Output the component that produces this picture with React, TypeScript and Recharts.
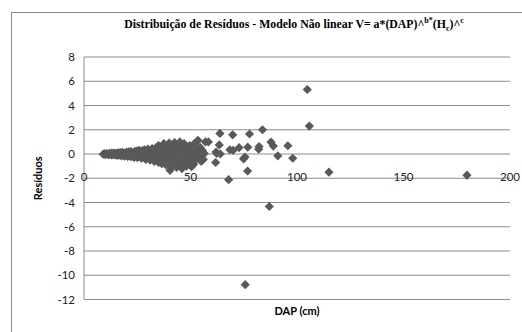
import { ScatterChart, Scatter, XAxis, YAxis, CartesianGrid, Label } from "recharts";

// DAP (cm) of each tree and its residual
const dap = [
  9, 9.5, 10, 10.5, 11, 11.5, 12, 12, 12.5, 13, 13, 13.5, 14, 14, 14.5, 15, 15,
  15.5, 16, 16, 16.5, 17, 17, 17.5, 18, 18, 18.5, 19, 19, 19.5, 20, 20,
  20.5, 21, 21, 21.5, 22, 22, 22.5, 23, 23, 23.5, 24, 24, 24.5, 25, 25,
  25.5, 26, 26, 26.5, 27, 27, 27.5, 28, 28, 28.5, 29, 29, 29.5, 30, 30, 30,
  30.5, 31, 31, 31.5, 32, 32, 32.5, 33, 33, 33.5, 34, 34, 34.5, 35, 35, 35,
  35.5, 36, 36, 36.5, 37, 37, 37.5, 38, 38, 38.5, 39, 39, 39.5, 40, 40, 40.4, 40,
  40.5, 41, 41, 41.5, 42, 42, 42.5, 43, 43, 43.5, 44, 44, 44.5, 45, 45, 45,
  45.5, 46, 46, 46.5, 47, 47, 47.5, 48, 48, 48.5, 49, 49, 49.5, 50, 50,
  50.5, 51, 51, 51.5, 52, 52, 52.5, 53, 53.5, 54, 54.5, 55, 55.5, 56, 57, 58.4, 56.5,
  61.8, 62.3, 62, 63.5, 63.8, 64, 68.5, 69.8, 70, 67.9, 72.8, 74.9, 75.6, 75.7,
  76.8, 76.9, 77.7, 82.2, 82, 83.8, 87, 87.8, 88.9, 91, 95.7, 98, 104.8, 105.8,
  115, 179.8,
];
const residuos = [
  -0.02, 0.03, -0.05, 0.04, 0.01, -0.06, 0.05, -0.03, 0.02, -0.08, 0.07, 0, -0.05, 0.08, 0.03, -0.1, 0.06,
  0, -0.12, 0.1, 0.04, -0.07, 0.12, -0.15, 0.02, 0.14, -0.1, 0.08, -0.18, 0, 0.15, -0.12,
  -0.2, 0.05, 0.18, -0.08, 0.2, -0.22, 0, 0.12, -0.15, -0.28, 0.22, 0.05, -0.1, 0.25, -0.3,
  0.1, -0.2, 0.3, -0.05, 0.15, -0.35, 0.28, -0.15, 0.05, 0.35, -0.25, -0.45, 0.2, 0, -0.3, 0.4,
  -0.15, 0.25, -0.5, 0.1, -0.35, 0.45, -0.05, 0.3, -0.6, 0.15, -0.25, 0.55, -0.45, 0, 0.7, -0.7,
  0.35, -0.3, 0.2, -0.8, 0.5, -0.1, 0.85, -0.5, 0.25, -0.9, 0.6, -0.2, 0.1, -0.65, 0.4, -1.35, 0.9,
  -0.3, 0.2, -1.0, 0.65, -0.45, 0, 0.95, -0.75, 0.35, -1.1, 0.15, -0.2, 0.75, -0.55, 1.0, -0.95,
  0.3, -1.2, 0.55, -0.1, 0.85, -0.7, 0.2, -1.0, 0.5, -0.35, 0, -0.8, 0.7, -0.5, 0.3,
  -1.05, 0.6, -0.2, -0.85, 0.15, 0.9, -0.45, 0.4, 1.13, -0.1, 0.55, -0.6, 0.3, -0.45, 1.0, 1.0, 0.05,
  -0.7, 0.05, 0.16, 0.75, 1.7, 0, 0.35, 1.58, 0.3, -2.12, 0.52, -0.4, -0.25, -10.78,
  -1.4, 0.56, 1.65, 0.62, 0.4, 2.0, -4.33, 0.98, 0.65, -0.15, 0.68, -0.35, 5.32, 2.3,
  -1.5, -1.75,
];

const xTicks = [0, 50, 100, 150, 200];
const yTicks = [-12, -10, -8, -6, -4, -2, 0, 2, 4, 6, 8];

const points = dap.map((d, i) => ({ dap: d, residuo: residuos[i] }));

const W = 522;
const H = 332;
const TOP = 57;
const X_AXIS_H = 32.5;
const PLOT_H = H - TOP - X_AXIS_H;
const Y_MIN = -12;
const Y_MAX = 8;
// the horizontal axis crosses at residual 0
const Y_ZERO = TOP + (PLOT_H * Y_MAX) / (Y_MAX - Y_MIN);

const GRID = "#8c8c8c";
const MARK = "#595959";
const FONT = "Lato, 'Liberation Sans', sans-serif";

const Diamond = (props: any) => {
  const { cx, cy } = props;
  const r = 4.6;
  return (
    <path
      d={`M${cx},${cy - r}L${cx + r},${cy}L${cx},${cy + r}L${cx - r},${cy}Z`}
      fill={MARK}
    />
  );
};

const XTick = (props: any) => {
  const { x, payload } = props;
  return (
    <text x={x} y={Y_ZERO + 27} textAnchor="middle" fontSize={11.5} fill="#222" fontFamily={FONT}>
      {payload.value}
    </text>
  );
};

export default function App() {
  return (
    <div style={{ position: "absolute", left: 0, top: 0, width: W, height: H, background: "#fff", overflow: "hidden" }}>
      <div
        style={{
          position: "absolute",
          left: 11,
          top: 12,
          width: 560,
          height: 360,
          border: "1px solid #868686",
        }}
      />
      <div
        style={{
          position: "absolute",
          left: 0,
          width: 588,
          top: 13,
          textAlign: "center",
          fontFamily: "'Liberation Serif', 'Times New Roman', serif",
          fontWeight: "bold",
          fontSize: 11.8,
          lineHeight: "16px",
          color: "#000",
          whiteSpace: "nowrap",
        }}
      >
        Distribuição de Resíduos - Modelo Não linear V= a*(DAP)^<sup style={{ fontSize: 8 }}>b*</sup>(H<sub style={{ fontSize: 8 }}>c</sub>)^<sup style={{ fontSize: 8 }}>c</sup>
      </div>
      <div style={{ position: "absolute", left: 0, top: 0 }}>
        <ScatterChart width={W} height={H} margin={{ top: TOP, right: 12, bottom: 0, left: 0 }}>
          <CartesianGrid vertical={false} stroke={GRID} strokeDasharray="" />
          <XAxis
            type="number"
            dataKey="dap"
            domain={[0, 200]}
            ticks={xTicks}
            height={X_AXIS_H}
            axisLine={false}
            tickLine={false}
            tick={<XTick />}
            interval={0}
          >
            <Label
              content={(p: any) => {
                const vb = p.viewBox;
                return (
                  <text
                    x={vb.x + vb.width / 2}
                    y={vb.y + 15}
                    textAnchor="middle"
                    fontSize={11}
                    fontWeight="bold"
                    fontFamily={FONT}
                    fill="#000"
                  >
                    DAP (cm)
                  </text>
                );
              }}
            />
          </XAxis>
          <YAxis
            type="number"
            dataKey="residuo"
            domain={[Y_MIN, Y_MAX]}
            ticks={yTicks}
            width={84}
            axisLine={{ stroke: GRID }}
            tickLine={false}
            tickSize={0}
            tickMargin={9}
            interval={0}
            tick={{ fontSize: 11.5, fill: "#222", fontFamily: FONT }}
          >
            <Label
              content={(p: any) => {
                const vb = p.viewBox;
                const cx = vb.x + 37;
                const cy = vb.y + vb.height / 2;
                return (
                  <text
                    x={cx}
                    y={cy}
                    transform={`rotate(-90 ${cx} ${cy})`}
                    textAnchor="middle"
                    dominantBaseline="central"
                    fontSize={11}
                    fontWeight="bold"
                    fontFamily={FONT}
                    fill="#000"
                  >
                    Resíduos
                  </text>
                );
              }}
            />
          </YAxis>
          <Scatter data={points} shape={<Diamond />} isAnimationActive={false} />
        </ScatterChart>
      </div>
    </div>
  );
}
